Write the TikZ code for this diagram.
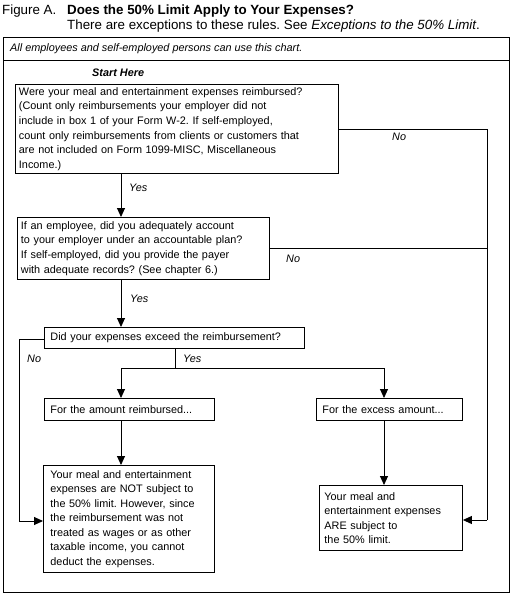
\documentclass[tikz,border=0pt]{standalone}
\usepackage{fontspec}
\setmainfont{Liberation Sans}
\usetikzlibrary{arrows.meta}
\frenchspacing
\begin{document}
\begin{tikzpicture}[x=1bp,y=-1bp,
  every node/.style={font=\fontsize{10.9}{14.6}\selectfont},
  box/.style={draw,line width=0.9bp,align=left,anchor=north west,inner ysep=0pt},
  ln/.style={line width=0.9bp},
  arr/.style={line width=0.9bp,-{Triangle[length=9bp,width=8bp]}},
  lab/.style={font=\fontsize{10.9}{13}\selectfont\itshape,anchor=base west,inner sep=0pt},
  ttl/.style={font=\fontsize{13.4}{15}\selectfont,anchor=base west,inner sep=0pt}]
\useasboundingbox (0,0) rectangle (513,595);
% title
\node[ttl] (figA) at (2,15) {Figure A.};
\node[ttl,font=\fontsize{13.4}{15}\selectfont\bfseries] (title) at (67,15) {Does the 50\% Limit Apply to Your Expenses?};
\node[ttl] (sub) at (67,30) {There are exceptions to these rules. See \textit{Exceptions to the 50\% Limit}.};
% frame
\node[draw,ln,anchor=north west,minimum width=506bp,minimum height=555bp,inner sep=0pt] (frame) at (3,37) {};
\node[draw,ln,anchor=north west,minimum width=506bp,minimum height=23bp,inner sep=0pt] (hdrbox) at (3,37) {};
\node[lab] (hdr) at (10,52) {All employees and self-employed persons can use this chart.};
\node[lab,font=\fontsize{10.9}{13}\selectfont\itshape\bfseries] (start) at (92,77) {Start Here};
% boxes
\node[box,inner xsep=3.5bp,text width=316bp,minimum height=89bp] (b1) at (15,84)
 {Were your meal and entertainment expenses reimbursed?\\
  (Count only reimbursements your employer did not\\
  include in box 1 of your Form W-2. If self-employed,\\
  count only reimbursements from clients or customers that\\
  are not included on Form 1099-MISC, Miscellaneous\\
  Income.)};
\node[box,inner xsep=3.5bp,text width=245bp,minimum height=62bp] (b2) at (17,217)
 {If an employee, did you adequately account\\
  to your employer under an accountable plan?\\
  If self-employed, did you provide the payer\\
  with adequate records? (See chapter 6.)};
\node[box,inner xsep=6bp,text width=248bp,minimum height=21bp] (b3) at (44,327)
 {Did your expenses exceed the reimbursement?};
\node[box,inner xsep=6bp,text width=158bp,minimum height=22bp] (b5) at (44,398)
 {For the amount reimbursed...};
\node[box,inner xsep=6bp,text width=134bp,minimum height=22bp] (b6) at (316,398)
 {For the excess amount...};
\node[box,inner xsep=7bp,text width=157bp,minimum height=107bp] (b4) at (43,465)
 {Your meal and entertainment\\
  expenses are NOT subject to\\
  the 50\% limit. However, since\\
  the reimbursement was not\\
  treated as wages or as other\\
  taxable income, you cannot\\
  deduct the expenses.};
\node[box,inner xsep=5bp,text width=133bp,minimum height=65bp] (b7) at (319,485)
 {Your meal and\\
  entertainment expenses\\
  ARE subject to\\
  the 50\% limit.};
% routing coordinates
\coordinate (cL) at (121,0);
\coordinate (cR) at (384,0);
\coordinate (cY) at (175,0);
\coordinate (rN) at (487,0);
\coordinate (lN) at (19,0);
\coordinate (jY) at (0,368);
\coordinate (yA) at (0,129);
\coordinate (yB) at (0,248);
\coordinate (yC) at (0,339);
\coordinate (yD) at (0,520);
\coordinate (yE) at (0,521);
% connectors
\draw[ln] (b1.east |- yA) -- (rN |- yA) -- (rN |- yD);
\draw[arr] (rN |- yD) -- (b7.east |- yD);
\draw[ln] (b2.east |- yB) -- (rN |- yB);
\draw[arr] (b1.south -| cL) -- (b2.north -| cL);
\draw[arr] (b2.south -| cL) -- (b3.north -| cL);
\draw[ln] (b3.west |- yC) -- (lN |- yC) -- (lN |- yE);
\draw[arr] (lN |- yE) -- (b4.west |- yE);
\draw[ln] (b3.south -| cY) -- (cY |- jY);
\draw[ln] (cL |- jY) -- (cR |- jY);
\draw[arr] (cL |- jY) -- (b5.north -| cL);
\draw[arr] (cR |- jY) -- (b6.north -| cR);
\draw[arr] (b5.south -| cL) -- (b4.north -| cL);
\draw[arr] (b6.south -| cR) -- (b7.north -| cR);
% labels
\node[lab] (no1) at (392,141) {No};
\node[lab] (yes1) at (129,191) {Yes};
\node[lab] (no2) at (286,262) {No};
\node[lab] (yes2) at (130,302) {Yes};
\node[lab] (no3) at (27,362) {No};
\node[lab] (yes3) at (183,362) {Yes};
\end{tikzpicture}
\end{document}
